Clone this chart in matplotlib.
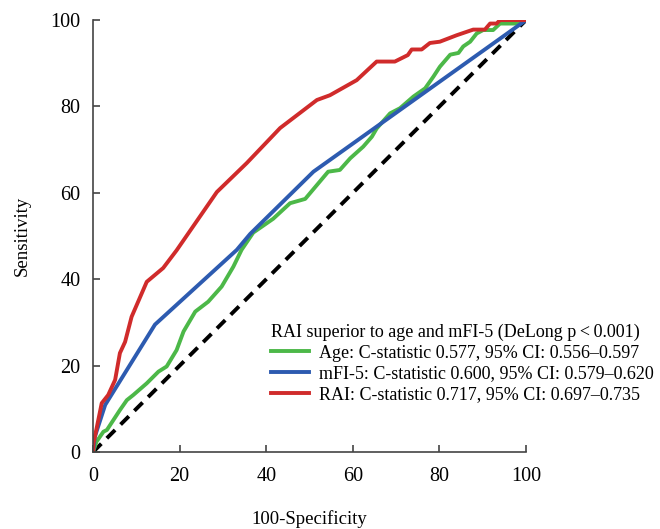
import matplotlib
matplotlib.use('Agg')
import matplotlib.pyplot as plt

# ROC points (100-specificity, sensitivity)
age_x = [0, 0.8, 2.4, 3.2, 4.7, 6.2, 7.8, 9.3, 12.4, 15.1, 17.0, 19.3, 20.9, 23.6, 26.6, 29.7,
         32.4, 34.3, 37.0, 41.6, 45.5, 49.0, 54.3, 57.0, 59.4, 62.4, 64.4, 65.5, 68.6, 70.9,
         74.0, 76.7, 78.6, 80.1, 82.5, 84.4, 85.5, 87.1, 88.6, 90.1, 92.4, 94.0, 97.8, 100]
age_y = [0, 2.4, 4.7, 5.1, 7.4, 9.7, 12.0, 13.2, 15.9, 18.6, 19.8, 23.6, 27.9, 32.5, 34.8, 38.3,
         42.9, 46.8, 50.8, 54.0, 57.6, 58.6, 64.9, 65.3, 68.0, 70.7, 73.0, 74.9, 78.4, 79.6,
         82.3, 84.2, 86.9, 89.2, 92.0, 92.4, 93.9, 95.0, 96.9, 97.7, 97.7, 99.2, 99.2, 100]

mfi_x = [0, 0.4, 2.8, 14.3, 33.2, 36.3, 50.9, 100]
mfi_y = [0, 3.5, 10.9, 29.5, 46.8, 50.5, 64.9, 100]

rai_x = [0, 0.1, 0.6, 2.0, 3.5, 5.1, 6.2, 7.4, 8.9, 12.4, 16.2, 19.3, 28.6, 35.5, 43.2, 51.7,
         54.7, 60.9, 65.5, 69.7, 72.7, 73.6, 75.9, 77.8, 80.1, 84.0, 87.8, 90.5, 91.7, 93.2,
         94.0, 100]
rai_y = [0, 2.0, 4.4, 11.3, 13.2, 16.7, 22.9, 25.5, 31.3, 39.4, 42.6, 46.7, 60.2, 66.9, 75.0,
         81.5, 82.6, 86.1, 90.4, 90.4, 91.9, 93.2, 93.2, 94.7, 95.0, 96.5, 97.8, 97.8, 99.2,
         99.2, 100, 100]

labels = ['Age: C-statistic 0.577, 95% CI: 0.556\u20130.597',
          'mFI-5: C-statistic 0.600, 95% CI: 0.579\u20130.620',
          'RAI: C-statistic 0.717, 95% CI: 0.697\u20130.735']
legend_title = 'RAI superior to age and mFI-5 (DeLong p\u2009<\u20090.001)'

plt.rcParams['font.family'] = ['Liberation Serif', 'DejaVu Serif']

fig = plt.figure(figsize=(6.6, 5.29), dpi=100)
ax = fig.add_axes([0.141, 0.1456, 0.656, 0.8164])

ax.plot([0, 100], [0, 100], color='black', lw=2.8, ls=(0, (3, 2)))
l1, = ax.plot(age_x, age_y, color='#4cb848', lw=2.8)
l2, = ax.plot(mfi_x, mfi_y, color='#2d5bb0', lw=2.8)
l3, = ax.plot(rai_x, rai_y, color='#d02b2b', lw=2.8)

ax.set_xlim(0, 100)
ax.set_ylim(0, 100)
ax.set_xticks(range(0, 101, 20))
ax.set_yticks(range(0, 101, 20))
ax.spines['top'].set_visible(False)
ax.spines['right'].set_visible(False)
for s in ['left', 'bottom']:
    ax.spines[s].set_color('#444444')
    ax.spines[s].set_linewidth(1.2)
ax.tick_params(direction='in', length=5, width=1.2, color='#444444', labelsize=14.5)
ax.tick_params(axis='x', pad=11)
ax.tick_params(axis='y', pad=9)

ax.set_xlabel('100-Specificity', fontsize=13.5, labelpad=17)
ax.set_ylabel('Sensitivity', fontsize=13.5, labelpad=14)

leg = fig.legend([l1, l2, l3], labels, title=legend_title, loc='upper left',
                 bbox_to_anchor=(0.41, 0.388), frameon=False, fontsize=13,
                 title_fontsize=13, handlelength=2.1, handletextpad=0.6,
                 labelspacing=0.2, borderaxespad=0, borderpad=0)
leg._legend_box.align = 'left'

fig.savefig('out.png', dpi=100)
